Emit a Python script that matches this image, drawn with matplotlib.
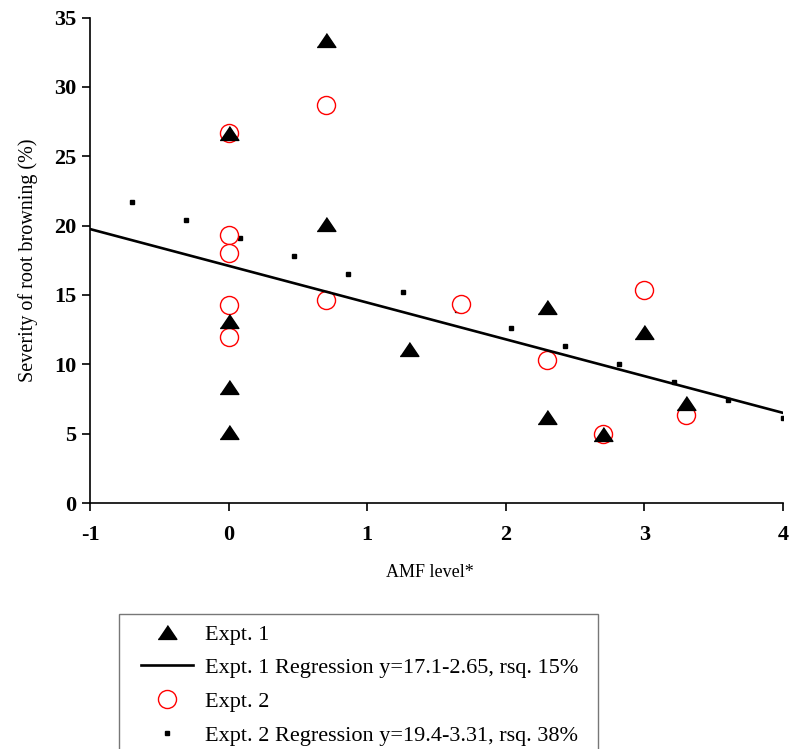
import matplotlib
matplotlib.use("Agg")
import matplotlib.pyplot as plt
from matplotlib.patches import Rectangle

plt.rcParams['font.family'] = ['Liberation Serif', 'DejaVu Serif']
plt.rcParams['axes.unicode_minus'] = False

# Expt. 1 (triangles)
e1_x = [0, 0, 0, 0, 0.7, 0.7, 1.3, 2.3, 2.3, 2.7, 3.0, 3.3]
e1_y = [26.7, 13.1, 8.4, 5.1, 33.4, 20.1, 11.1, 14.1, 6.2, 5.0, 12.3, 7.2]

# Expt. 2 (circles)
e2_x = [0, 0, 0, 0, 0, 0.7, 0.7, 1.68, 2.3, 2.7, 3.0, 3.3]
e2_y = [26.7, 19.35, 18.0, 14.3, 12.0, 28.7, 14.65, 14.35, 10.3, 5.0, 15.35, 6.35]

# Expt. 1 regression line end points
reg1_x = [-1, 4]
reg1_y = [19.75, 6.5]

# Expt. 2 regression (small square markers)
reg2_x = [-0.7, -0.31, 0.08, 0.47, 0.86, 1.26, 1.65, 2.04, 2.43, 2.82, 3.21, 3.6, 4.0]
reg2_y = [21.72, 20.42, 19.12, 17.83, 16.52, 15.23, 13.93, 12.62, 11.32, 10.03, 8.73, 7.44, 6.13]

labels = ["Expt. 1",
          "Expt. 1 Regression y=17.1-2.65, rsq. 15%",
          "Expt. 2",
          "Expt. 2 Regression y=19.4-3.31, rsq. 38%"]

tri = [(-1, -0.74), (1, -0.74), (0, 0.74)]

fig = plt.figure(figsize=(7.89, 7.49), dpi=100)
ax = fig.add_axes([0.1141, 0.3284, 0.8783, 0.6482])

h2 = ax.plot(reg2_x, reg2_y, ls='none', marker='s', ms=2.3, color='black', zorder=2)[0]
hc = ax.plot(e2_x, e2_y, ls='none', marker='o', ms=13, mfc='white', mec='#ff0000', mew=1.0, zorder=3)[0]
h1 = ax.plot(reg1_x, reg1_y, color='black', lw=1.9, zorder=4)[0]
ht = ax.plot(e1_x, e1_y, ls='none', marker=tri, ms=13.5, color='black', zorder=5)[0]

ax.set_xlim(-1, 4)
ax.set_ylim(0, 35)
ax.set_xticks([-1, 0, 1, 2, 3, 4])
ax.set_yticks(range(0, 36, 5))
for s in ['top', 'right']:
    ax.spines[s].set_visible(False)
for s in ['left', 'bottom']:
    ax.spines[s].set_linewidth(1.2)
ax.tick_params(direction='out', length=6, width=1.2, labelsize=16)
ax.tick_params(axis='x', pad=10)
ax.tick_params(axis='y', pad=4)
for t in ax.get_xticklabels() + ax.get_yticklabels():
    t.set_fontweight('bold')
ax.set_xlabel("AMF level*", fontsize=13)
ax.set_ylabel("Severity of root browning (%)", fontsize=14.5)
ax.xaxis.set_label_coords(0.49, -0.126)
ax.yaxis.set_label_coords(-0.075, 0.5)

# legend frame runs past the bottom of the figure
frame = Rectangle((119 / 789, -0.05), (598 - 119) / 789, 1 - 614 / 749 + 0.05,
                  transform=fig.transFigure, fill=False, edgecolor='#777777',
                  lw=1.0, clip_on=False)
fig.add_artist(frame)

leg = fig.legend([ht, h1, hc, h2], labels, loc='upper left',
                 bbox_to_anchor=(141 / 789, 1 - 624 / 749),
                 fontsize=16, frameon=False, handlelength=2.34, handletextpad=0.54,
                 borderpad=0, labelspacing=0.59, borderaxespad=0)

fig.savefig("out.png", dpi=100)
